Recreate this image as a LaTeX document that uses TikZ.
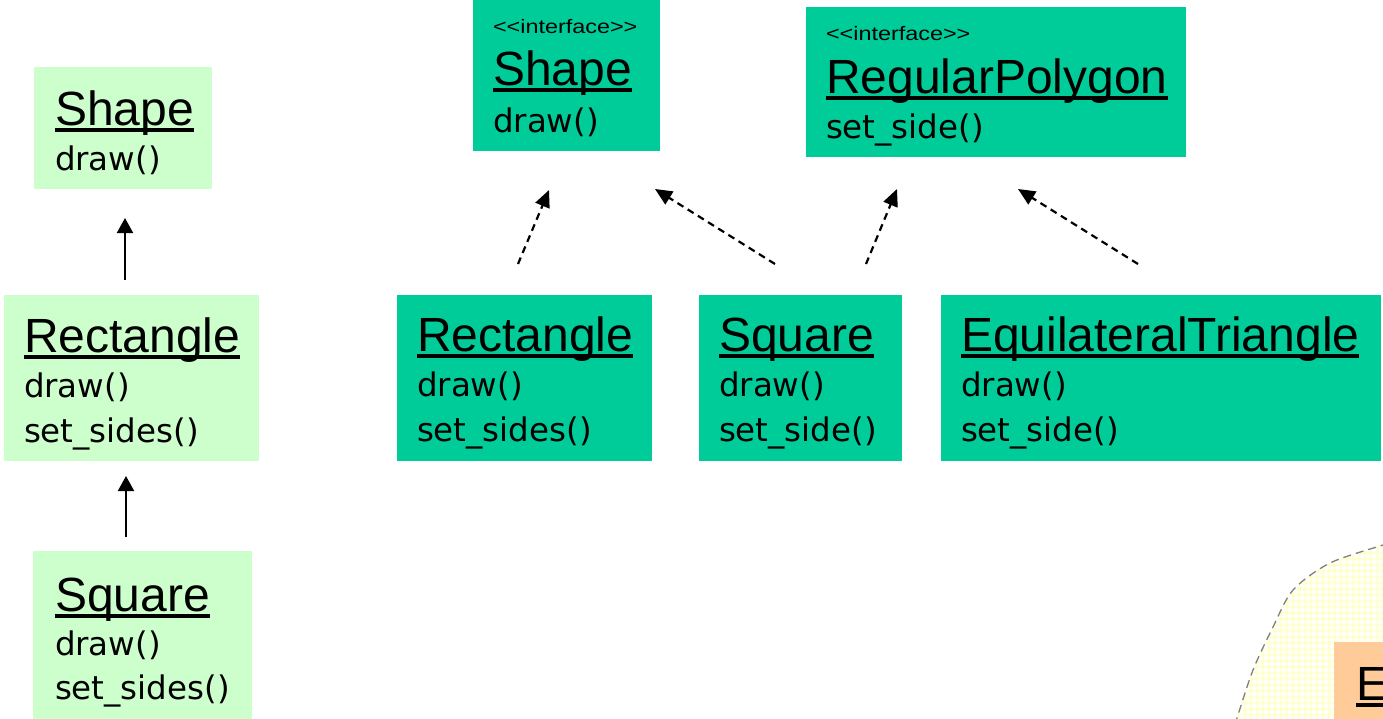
\documentclass[tikz,border=0pt]{standalone}
\usepackage{fontspec}
\usetikzlibrary{arrows.meta,patterns}

\newfontfamily\titlefont{Liberation Sans}
\newfontfamily\stereofont[FakeStretch=1.2]{Liberation Sans}
\newfontfamily\methfont{DejaVu Sans}

\definecolor{mintfill}{HTML}{CCFFCC}
\definecolor{tealfill}{HTML}{00CC99}
\definecolor{peachfill}{HTML}{FFCC99}
\definecolor{paleyellow}{HTML}{FFFFC8}
\definecolor{blobline}{HTML}{808080}

% thick underline for class names
\newcommand\ulname[1]{\setbox0=\hbox{#1}\rlap{\rule[-6.5pt]{\wd0}{3.2pt}}\box0}
% one method line
\newcommand\mline[1]{\hbox{\methfont\fontsize{32.5}{32.5}\selectfont #1}}
% class name (underlined) followed by its method lines
\newcommand\classtext[3][45pt]{\vtop{\baselineskip=#1\lineskiplimit=-100pt
  \hbox{\titlefont\fontsize{48}{48}\selectfont\ulname{#2}}#3}}
\newcommand\stereotype{\stereofont\fontsize{19.5}{19.5}\selectfont <{}<interface>{}>}

% small diamond grid used for the shaded region
\pgfdeclarepatternformonly{diamondgrid}{\pgfqpoint{-0.1pt}{-0.1pt}}{\pgfqpoint{6.1pt}{6.1pt}}{\pgfqpoint{6pt}{6pt}}{%
  \pgfpathmoveto{\pgfqpoint{3pt}{0.2pt}}%
  \pgfpathlineto{\pgfqpoint{5.8pt}{3pt}}%
  \pgfpathlineto{\pgfqpoint{3pt}{5.8pt}}%
  \pgfpathlineto{\pgfqpoint{0.2pt}{3pt}}%
  \pgfpathclose\pgfusepath{fill}}

\tikzset{
  classbox/.style={rectangle, inner sep=0pt, outer sep=0pt, anchor=north west},
  mintbox/.style={classbox, fill=mintfill},
  tealbox/.style={classbox, fill=tealfill},
  peachbox/.style={classbox, fill=peachfill},
  txt/.style={inner sep=0pt, outer sep=0pt, anchor=base west},
  inherit/.style={line width=2pt, -{Triangle[length=15pt,width=16pt]}},
  realize/.style={line width=2.2pt, dash pattern=on 7pt off 5pt,
    -{Triangle[length=17pt,width=15pt]}},
  blobedge/.style={draw=blobline, line width=1.3pt, dash pattern=on 8pt off 5pt},
}

\begin{document}
\begin{tikzpicture}[x=1pt,y=-1pt]
\useasboundingbox (0,0) rectangle (1383,718);

% ---- shaded region in the lower right corner ----
\fill[pattern=diamondgrid, pattern color=paleyellow]
  plot[smooth] coordinates {(1235,725) (1237,718) (1253,670) (1273,627) (1293,590) (1330,563) (1383,545) (1392,542)}
  -- (1392,725) -- cycle;
\draw[blobedge]
  plot[smooth] coordinates {(1235,725) (1237,718) (1253,670) (1273,627) (1293,590) (1330,563) (1383,545) (1392,542)};
\node[peachbox, minimum width=60pt, minimum height=90pt] (peach) at (1334,642) {};
\node[txt] (peachtxt) at (1356,700) {\titlefont\fontsize{48}{48}\selectfont\ulname{E}};

% ---- inheritance hierarchy (left) ----
\node[mintbox, minimum width=178pt, minimum height=122pt] (lshape) at (34,67) {};
\node[txt] (lshapetxt) at (55,125) {\classtext{Shape}{\mline{draw()}}};

\node[mintbox, minimum width=255pt, minimum height=166pt] (lrect) at (4,295) {};
\node[txt] (lrecttxt) at (24,352) {\classtext{Rectangle}{\mline{draw()}\mline{set\_sides()}}};

\node[mintbox, minimum width=219pt, minimum height=180pt] (lsquare) at (33,551) {};
\node[txt] (lsquaretxt) at (55,611) {\classtext[44pt]{Square}{\mline{draw()}\mline{set\_sides()}}};

\coordinate (lrecttop) at (125,280);
\coordinate (lshapebot) at (125,218);
\coordinate (lsquaretop) at (126,537);
\coordinate (lrectbot) at (126,476);
\draw[inherit] (lrecttop) -- (lshapebot);
\draw[inherit] (lsquaretop) -- (lrectbot);

% ---- interfaces (top) ----
\node[tealbox, minimum width=187pt, minimum height=161pt] (ishape) at (473,-10) {};
\node[txt] (ishapest) at (493,33) {\stereotype};
\node[txt] (ishapetxt) at (493,85) {\classtext[47pt]{Shape}{\mline{draw()}}};

\node[tealbox, minimum width=380pt, minimum height=150pt] (ipoly) at (806,7) {};
\node[txt] (ipolyst) at (826,40) {\stereotype};
\node[txt] (ipolytxt) at (826,93) {\classtext[45pt]{RegularPolygon}{\mline{set\_side()}}};

% ---- implementing classes ----
\node[tealbox, minimum width=255pt, minimum height=166pt] (rect) at (397,295) {};
\node[txt] (recttxt) at (417,351) {\classtext{Rectangle}{\mline{draw()}\mline{set\_sides()}}};

\node[tealbox, minimum width=203pt, minimum height=166pt] (square) at (699,295) {};
\node[txt] (squaretxt) at (719,351) {\classtext{Square}{\mline{draw()}\mline{set\_side()}}};

\node[tealbox, minimum width=440pt, minimum height=166pt] (tri) at (941,295) {};
\node[txt] (tritxt) at (961,351) {\classtext{EquilateralTriangle}{\mline{draw()}\mline{set\_side()}}};

% ---- realization arrows ----
\coordinate (recttail) at (518,264);
\coordinate (ishapetipA) at (549,190);
\coordinate (squaretailA) at (775,264);
\coordinate (ishapetipB) at (655,189);
\coordinate (squaretailB) at (866,264);
\coordinate (ipolytipA) at (897,189);
\coordinate (tritail) at (1138,264);
\coordinate (ipolytipB) at (1018,189);
\draw[realize] (recttail) -- (ishapetipA);
\draw[realize] (squaretailA) -- (ishapetipB);
\draw[realize] (squaretailB) -- (ipolytipA);
\draw[realize] (tritail) -- (ipolytipB);
\end{tikzpicture}
\end{document}
